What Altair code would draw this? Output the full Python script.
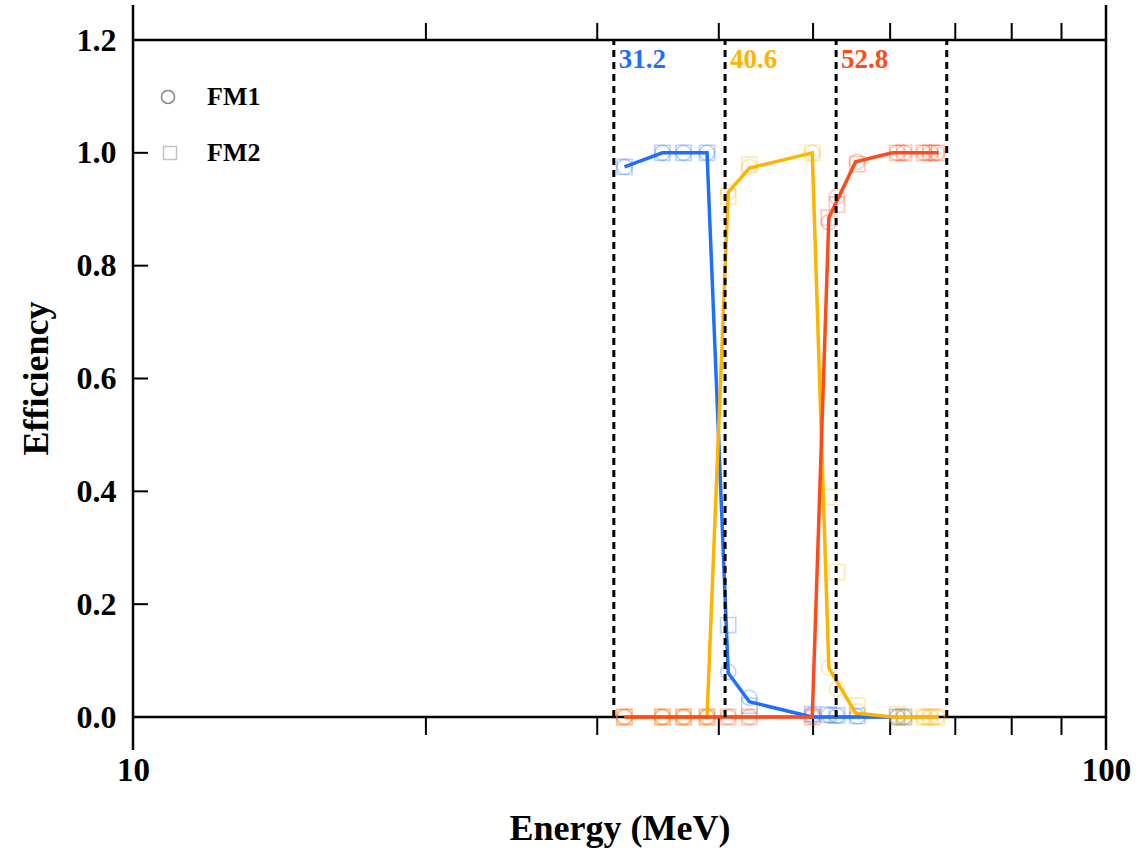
import altair as alt
import pandas as pd

# Energy bins (lower edges) and their colours
bin_labels = ["31.2", "40.6", "52.8"]
bin_edges = [31.2, 40.6, 52.8, 68.6]
bin_colors = ["#1f6fff", "#ffb400", "#ff4a1a"]

# Efficiency curves (solid lines)
line_energy = [32.0, 35.0, 36.8, 38.9, 40.9, 43.0, 49.9, 51.9, 55.3, 60.3, 67.3]
line_eff = {
    "31.2": [0.975, 1.0, 1.0, 1.0, 0.078, 0.027, 0.0, 0.0, 0.0, 0.0, None],
    "40.6": [0.0, 0.0, 0.0, 0.0, 0.93, 0.973, 1.0, 0.087, 0.007, 0.0, 0.0],
    "52.8": [0.0, 0.0, 0.0, 0.0, 0.0, 0.0, 0.0, 0.885, 0.984, 1.0, 1.0],
}

# Measured points for the two flight modules
point_energy = [32.0, 35.0, 36.8, 38.9, 40.9, 43.0, 49.9, 51.9, 52.9, 55.5, 61.0, 62.0, 65.0, 66.0, 67.0]
fm1 = {
    "31.2": [0.975, 1.0, 1.0, 1.0, 0.08, 0.034, 0.004, 0.003, 0.002, 0.001, 0.0, 0.0, None, None, None],
    "40.6": [0.0, 0.0, 0.0, 0.0, 0.93, 0.975, 1.0, 0.087, 0.05, 0.01, 0.0, 0.0, 0.0, 0.0, 0.0],
    "52.8": [0.0, 0.0, 0.0, 0.0, 0.0, 0.0, 0.0, 0.877, 0.922, 0.984, 1.0, 1.0, 1.0, 1.0, 1.0],
}
fm2 = {
    "31.2": [0.975, 1.0, 1.0, 1.0, 0.163, 0.02, 0.005, 0.004, 0.003, 0.002, 0.0, 0.0, None, None, None],
    "40.6": [0.0, 0.0, 0.0, 0.0, 0.922, 0.979, 1.0, 0.39, 0.257, 0.02, 0.005, 0.0, 0.0, 0.0, 0.0],
    "52.8": [0.0, 0.0, 0.0, 0.0, 0.0, 0.0, 0.0, 0.885, 0.908, 0.98, 1.0, 1.0, 1.0, 1.0, 1.0],
}

y_ticks = [0.0, 0.2, 0.4, 0.6, 0.8, 1.0, 1.2]
minor_x = [20, 30, 40, 50, 60, 70, 80, 90]

FONT = "Liberation Serif"
W, H = 973, 677

xs = alt.Scale(type="log", domain=[10, 100])
ys = alt.Scale(domain=[0, 1.2], zero=False)

x_axis = alt.Axis(values=[10, 100], format="d", grid=False, domain=False, ticks=False,
                  tickSize=0, labelFont=FONT, labelFontWeight="bold", labelFontSize=33,
                  labelColor="black", labelBaseline="middle", labelPadding=53,
                  labelFlush=False, labelOverlap=False,
                  title="Energy (MeV)", titleFont=FONT, titleFontWeight="bold",
                  titleFontSize=36, titleColor="black", titleBaseline="middle", titleY=111)
y_axis = alt.Axis(values=y_ticks, format=".1f", grid=False, domain=False, ticks=False,
                  tickSize=0, labelFont=FONT, labelFontWeight="bold", labelFontSize=32,
                  labelColor="black", labelPadding=17, labelFlush=False,
                  title="Efficiency", titleFont=FONT, titleFontWeight="bold",
                  titleFontSize=36, titleColor="black", titleAngle=270,
                  titleBaseline="middle", titleAlign="center", titleX=-97, titleY=338)


def X(field):
    return alt.X(field, type="quantitative", scale=xs, axis=x_axis)


def Y(field):
    return alt.Y(field, type="quantitative", scale=ys, axis=y_axis)


layers = []

# Frame: vertical lines at 10 and 100 MeV reaching past the plot area
frame_v = pd.DataFrame({"E": [10, 100]})
layers.append(alt.Chart(frame_v).mark_rule(color="black", strokeWidth=2.5).encode(
    x=X("E"), y=alt.value(-35), y2=alt.value(H + 33)))

# Horizontal axis lines at 0.0 and 1.2
frame_h = pd.DataFrame({"v": [0.0, 1.2]})
layers.append(alt.Chart(frame_h).mark_rule(color="black", strokeWidth=2.5).encode(
    y=Y("v"), x=alt.value(0), x2=alt.value(W)))

# Minor ticks above the top line and below the bottom line
minor = pd.DataFrame({"E": minor_x})
layers.append(alt.Chart(minor).mark_rule(color="black", strokeWidth=2).encode(
    x=X("E"), y=alt.value(0), y2=alt.value(-17)))
layers.append(alt.Chart(minor).mark_rule(color="black", strokeWidth=2).encode(
    x=X("E"), y=alt.value(H), y2=alt.value(H + 18)))

# Inward ticks on the efficiency axis
yt = pd.DataFrame({"v": y_ticks})
layers.append(alt.Chart(yt).mark_rule(color="black", strokeWidth=2).encode(
    y=Y("v"), x=alt.value(0), x2=alt.value(15)))

# Measured points (FM1 circles, FM2 squares)
rows = []
for b in bin_labels:
    for det, series in (("FM1", fm1[b]), ("FM2", fm2[b])):
        for e, v in zip(point_energy, series):
            if v is not None:
                rows.append({"E": e, "eff": v, "bin": b, "det": det})
pts = pd.DataFrame(rows)
layers.append(alt.Chart(pts).mark_point(filled=False, strokeWidth=1.6, opacity=0.3, size=230).encode(
    x=X("E"), y=Y("eff"),
    color=alt.Color("bin:N", scale=alt.Scale(domain=bin_labels, range=bin_colors), legend=None),
    shape=alt.Shape("det:N", scale=alt.Scale(domain=["FM1", "FM2"], range=["circle", "square"]), legend=None),
))

# Efficiency curves
for b, c in zip(bin_labels, bin_colors):
    lr = [{"E": e, "eff": v} for e, v in zip(line_energy, line_eff[b]) if v is not None]
    layers.append(alt.Chart(pd.DataFrame(lr)).mark_line(color=c, strokeWidth=3.5).encode(
        x=X("E"), y=Y("eff")))

# Bin boundaries
edges = pd.DataFrame({"E": bin_edges, "lo": [0.0] * 4, "hi": [1.2] * 4})
layers.append(alt.Chart(edges).mark_rule(color="black", strokeWidth=3, strokeDash=[7, 5]).encode(
    x=X("E"), y=Y("lo"), y2="hi"))

# Bin labels
lab = pd.DataFrame({"E": bin_edges[:3], "y": [1.165] * 3, "t": bin_labels})
layers.append(alt.Chart(lab).mark_text(font=FONT, fontWeight="bold", fontSize=27, align="left",
                                       baseline="middle", dx=5).encode(
    x=X("E"), y=Y("y"), text="t:N",
    color=alt.Color("t:N", scale=alt.Scale(domain=bin_labels, range=bin_colors), legend=None)))

# Legend
leg = pd.DataFrame({"t": ["FM1", "FM2"], "ypx": [57, 113]})
layers.append(alt.Chart(leg.iloc[[0]]).mark_point(shape="circle", filled=False, color="#555555",
                                                  strokeWidth=1.5, size=170).encode(
    x=alt.value(35), y=alt.value(57)))
layers.append(alt.Chart(leg.iloc[[1]]).mark_point(shape="square", filled=False, color="#aaaaaa",
                                                  strokeWidth=1.5, size=170).encode(
    x=alt.value(37), y=alt.value(113)))
layers.append(alt.Chart(leg).mark_text(font=FONT, fontWeight="bold", fontSize=26, align="left",
                                       baseline="middle", color="black").encode(
    x=alt.value(74), y=alt.Y("ypx:Q", scale=None), text="t:N"))

chart = alt.layer(*layers).properties(
    width=W, height=H,
    autosize=alt.AutoSizeParams(type="none"),
    padding={"left": 133, "top": 40, "right": 38, "bottom": 135},
).configure_view(stroke=None)

chart.save("out.html", embed_options={"renderer": "svg", "actions": False})
